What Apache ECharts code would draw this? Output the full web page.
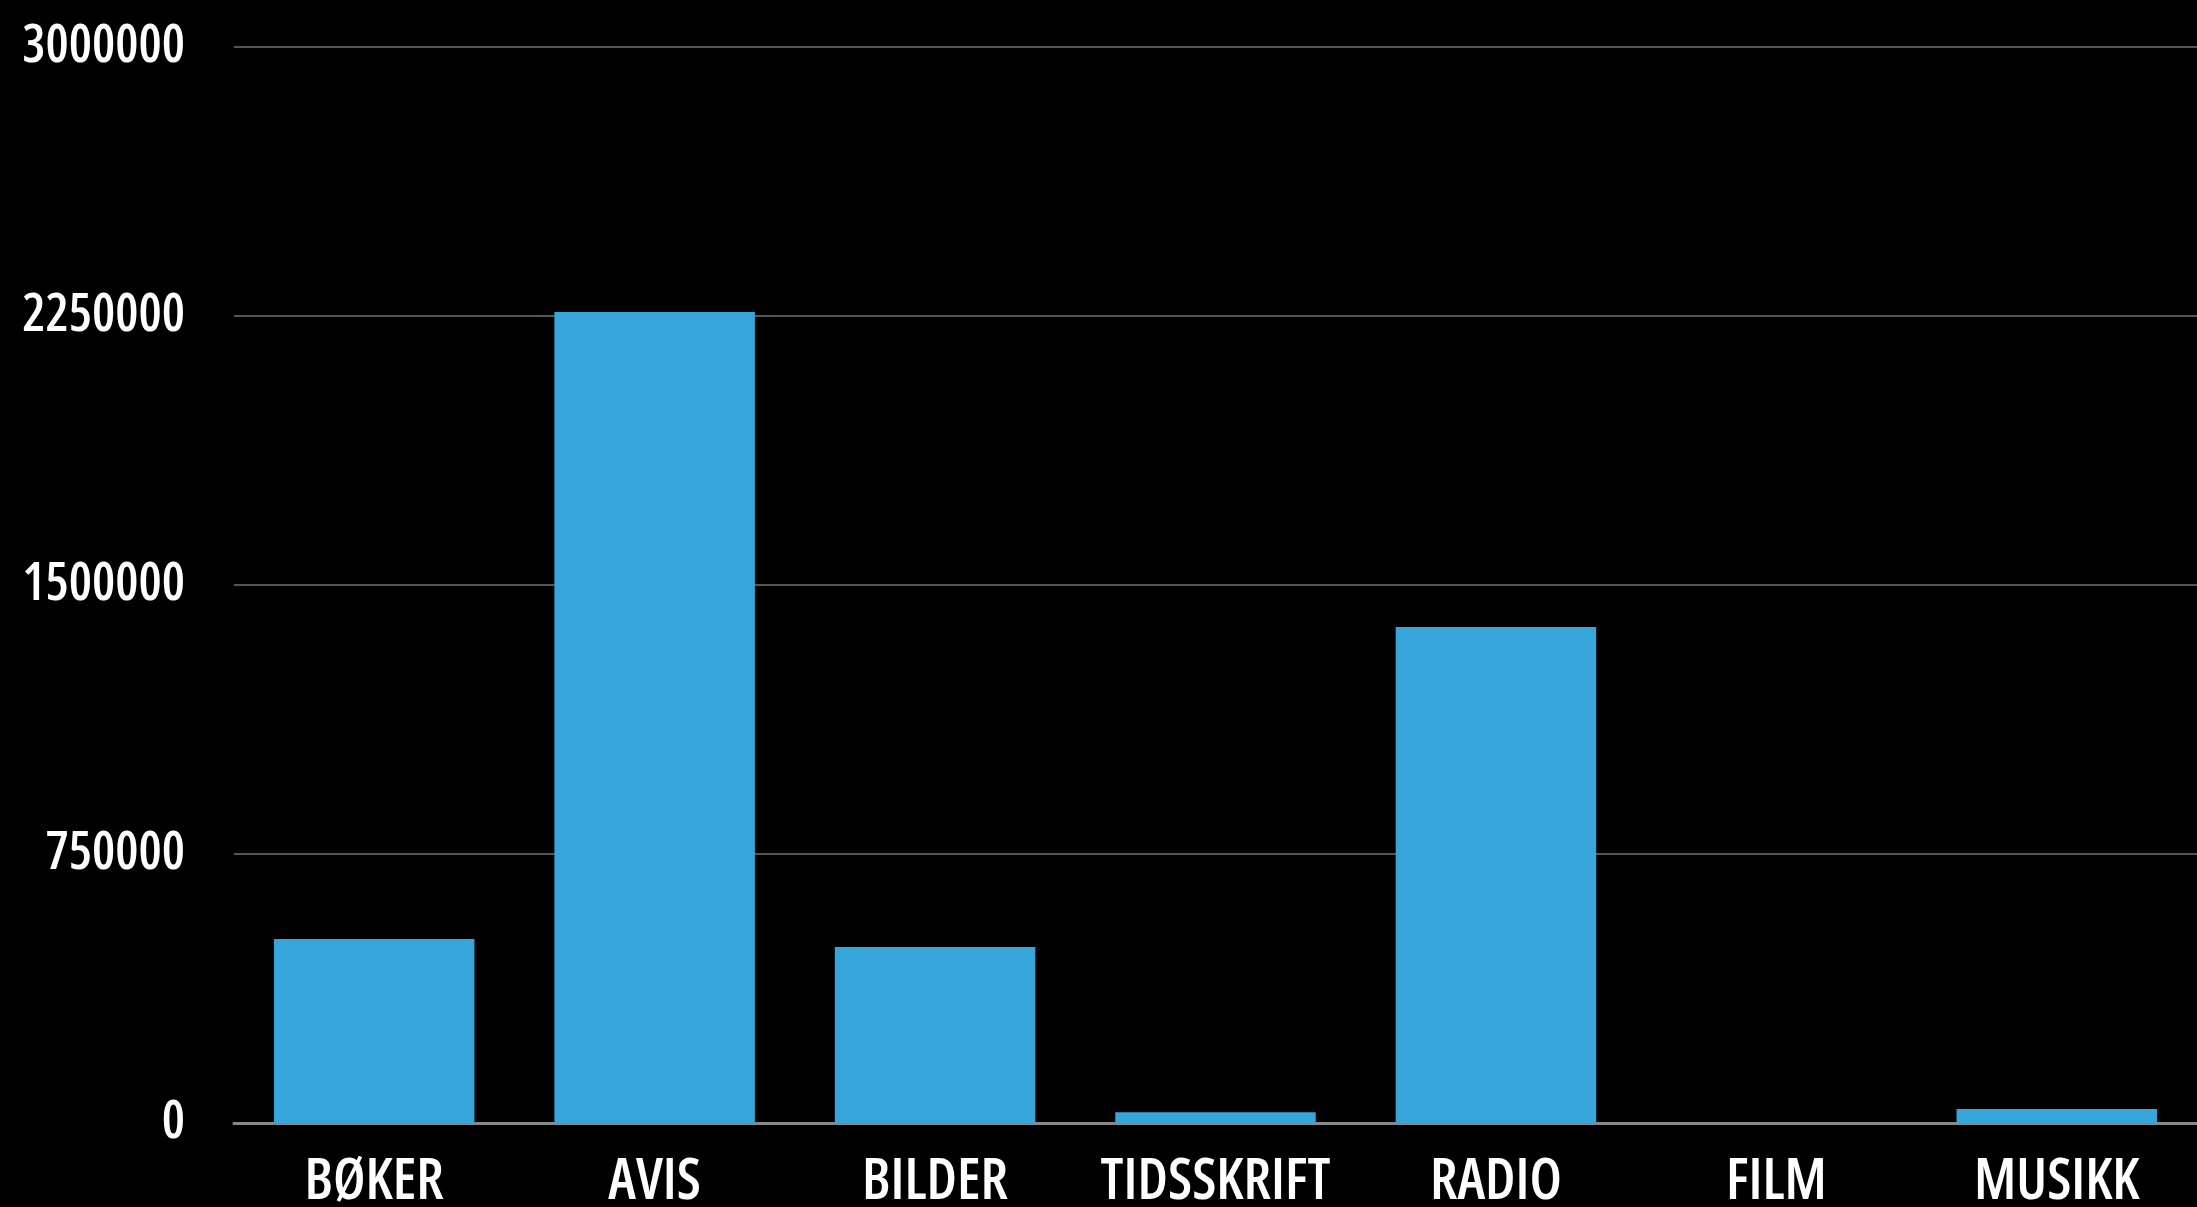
<!DOCTYPE html>
<html>
<head>
<meta charset="utf-8">
<style>
html,body{margin:0;padding:0;background:#000;}
#chart{width:2197px;height:1207px;}
</style>
<script src="https://cdn.jsdelivr.net/npm/echarts@6/dist/echarts.min.js"></script>
</head>
<body>
<div id="chart"></div>
<script>
const categories = ['BØKER', 'AVIS', 'BILDER', 'TIDSSKRIFT', 'RADIO', 'FILM', 'MUSIKK'];
const values = [513000, 2261000, 491000, 30000, 1383000, 0, 39000];
const yMin = 0, yMax = 3000000, yInterval = 750000;

const FONT = '"Open Sans", "Roboto", sans-serif';
const chart = echarts.init(document.getElementById('chart'));
chart.setOption({
  backgroundColor: '#000000',
  animation: false,
  grid: { left: 234, right: 0, top: 47, bottom: 84, containLabel: false, outerBoundsMode: 'none' },
  xAxis: {
    type: 'category',
    data: categories,
    axisLine: { show: true, lineStyle: { color: '#888888', width: 3 } },
    axisTick: { show: false },
    axisLabel: { margin: 31, interval: 0, color: '#ffffff', fontFamily: FONT, fontSize: 57, fontWeight: 600, fontStyle: 'extra-condensed' }
  },
  yAxis: {
    type: 'value',
    min: yMin, max: yMax, interval: yInterval,
    axisLine: { show: false },
    axisTick: { show: false },
    splitLine: { show: true, lineStyle: { color: '#555555', width: 2 } },
    axisLabel: { margin: 49, color: '#ffffff', fontFamily: FONT, fontSize: 52, fontWeight: 600, fontStyle: 'extra-condensed', formatter: function (v) { return String(v); } }
  },
  series: [{
    type: 'bar',
    data: values,
    barWidth: '71.5%',
    itemStyle: { color: '#35A5DA' }
  }]
});
</script>
</body>
</html>
